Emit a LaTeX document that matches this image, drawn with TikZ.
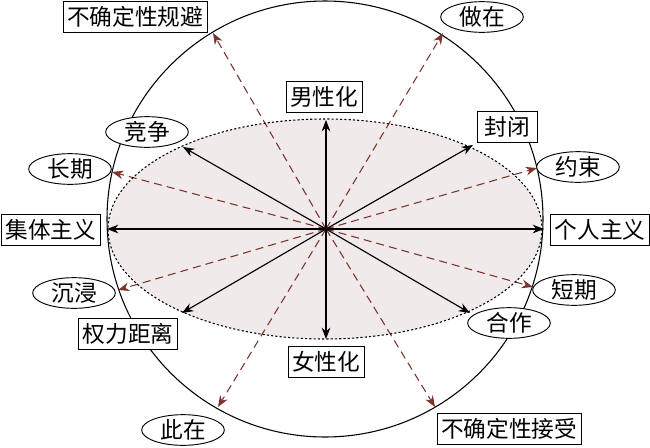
\documentclass[tikz,border=0pt]{standalone}
\usepackage{fontspec}
\newfontfamily\cjk{Noto Sans CJK SC}
\usetikzlibrary{arrows.meta,shapes.geometric}
\definecolor{arrowbrown}{RGB}{122,52,44}
\definecolor{ovalfill}{RGB}{241,234,234}
\tikzset{
	boxlabel/.style={draw, fill=white, line width=0.7pt, inner xsep=3pt, inner ysep=0pt, minimum height=23pt, font=\cjk\fontsize{17}{19}\selectfont},
	ovallabel/.style={draw, ellipse, fill=white, line width=0.7pt, inner sep=0pt, minimum width=62pt, minimum height=23pt, font=\cjk\fontsize{17}{19}\selectfont},
	solidarrow/.style={-{Stealth[length=8.5pt,width=6.5pt]}, line width=0.85pt, black},
	dasharrow/.style={-{Stealth[length=8.5pt,width=6.5pt]}, line width=0.8pt, arrowbrown, dash pattern=on 6pt off 3.8pt}
}

\begin{document}
\begin{tikzpicture}[x=0.75pt, y=-0.75pt]
			%%%%% START %%%%%
			\useasboundingbox (0, 0) rectangle (650, 447);
			
			\coordinate (o) at (326, 229);
			
			\fill[ovalfill] (325, 229) ellipse (217 and 110);
			\draw[line width=0.8pt] (325, 219) circle (218);
			
			\coordinate (d1) at (213, 33);
			\coordinate (d2) at (443, 33);
			\coordinate (d3) at (112, 172);
			\coordinate (d4) at (537, 168);
			\coordinate (d5) at (118, 290);
			\coordinate (d6) at (533, 287);
			\coordinate (d7) at (218, 407);
			\coordinate (d8) at (435, 407);
			
			\draw[dasharrow] (o) -- (d1);
			\draw[dasharrow] (o) -- (d2);
			\draw[dasharrow] (o) -- (d3);
			\draw[dasharrow] (o) -- (d4);
			\draw[dasharrow] (o) -- (d5);
			\draw[dasharrow] (o) -- (d6);
			\draw[dasharrow] (o) -- (d7);
			\draw[dasharrow] (o) -- (d8);
			
			\coordinate (t1) at (326, 120);
			\coordinate (t2) at (326, 339);
			\coordinate (t3) at (107, 229);
			\coordinate (t4) at (544, 229);
			\coordinate (t5) at (183, 147);
			\coordinate (t6) at (473, 145);
			\coordinate (t7) at (182, 313);
			\coordinate (t8) at (470, 313);
			
			\draw[solidarrow] (o) -- (t1);
			\draw[solidarrow] (o) -- (t2);
			\draw[solidarrow] (o) -- (t3);
			\draw[solidarrow] (o) -- (t4);
			\draw[solidarrow] (o) -- (t5);
			\draw[solidarrow] (o) -- (t6);
			\draw[solidarrow] (o) -- (t7);
			\draw[solidarrow] (o) -- (t8);
			
			\draw[line width=0.8pt, dash pattern=on 1.6pt off 1.6pt] (325, 229) ellipse (217 and 110);
			
			\node[boxlabel] (masc) at (324, 97) {男性化};
			\node[boxlabel] (fem) at (326, 362) {女性化};
			\node[boxlabel] (collect) at (51, 230) {集体主义};
			\node[boxlabel] (indiv) at (600, 230) {个人主义};
			\node[boxlabel, minimum width=45pt] (closed) at (507, 127) {封闭};
			\node[boxlabel] (powerdist) at (128, 334) {权力距离};
			\node[boxlabel] (uncavoid) at (135, 17) {不确定性规避};
			\node[boxlabel] (uncaccept) at (509, 429) {不确定性接受};
			
			\node[ovallabel] (compete) at (147, 132) {竞争};
			\node[ovallabel] (longterm) at (70, 169) {长期};
			\node[ovallabel] (restrain) at (578, 167) {约束};
			\node[ovallabel] (immerse) at (74, 293) {沉浸};
			\node[ovallabel] (coop) at (509, 323) {合作};
			\node[ovallabel] (shortterm) at (574, 290) {短期};
			\node[ovallabel] (doing) at (482, 17) {做在};
			\node[ovallabel] (being) at (183, 430) {此在};
			
			%%%%% END %%%%%
\end{tikzpicture}
\end{document}
